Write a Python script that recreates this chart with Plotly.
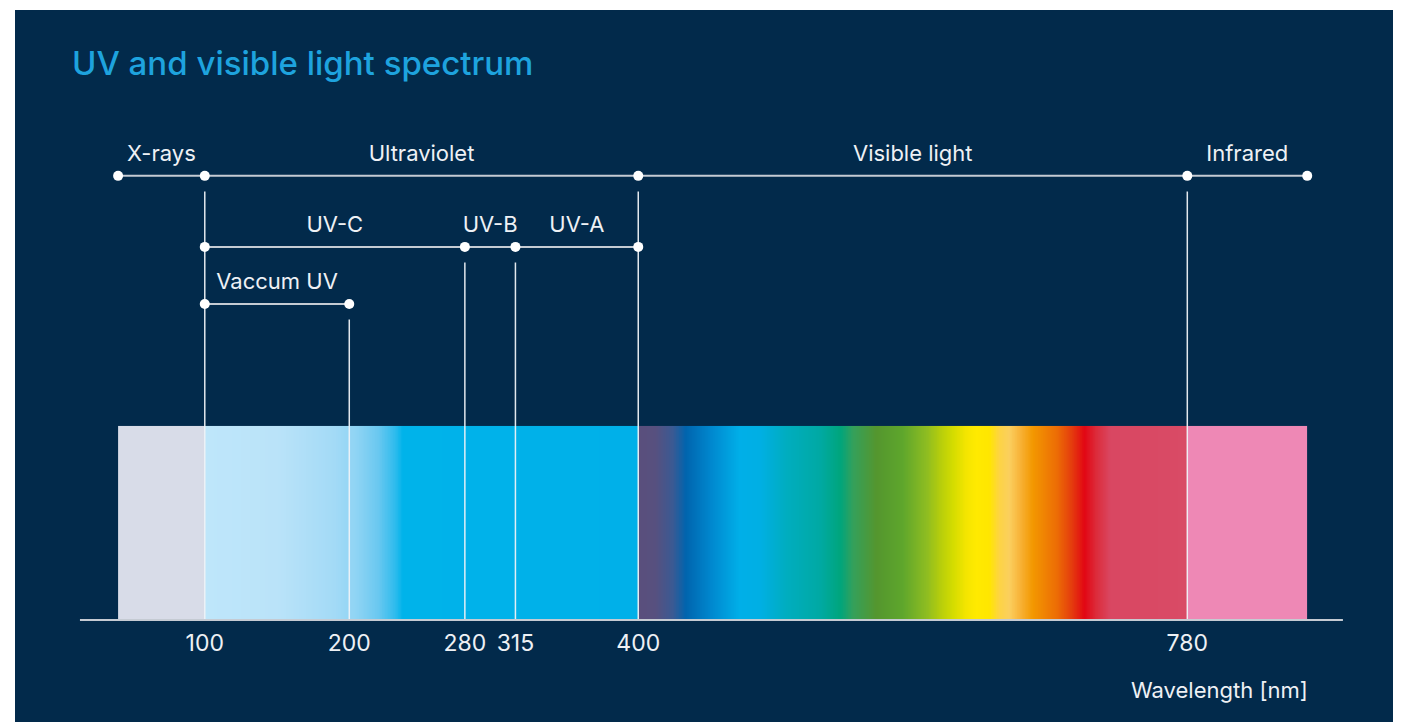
import numpy as np
import plotly.graph_objects as go

# ---------------- data ----------------
# hierarchy rows: boundary points (nm) and the band names between them
row1_points = [40, 100, 400, 780, 863]
row1_labels = ["X-rays", "Ultraviolet", "Visible light", "Infrared"]
row2_points = [100, 280, 315, 400]
row2_labels = ["UV-C", "UV-B", "UV-A"]
row3_points = [100, 200]
row3_labels = ["Vaccum UV"]

# divider lines: wavelength and the row they hang from
divider_nm = [100, 400, 780, 280, 315, 200]
divider_row = [1, 1, 1, 2, 2, 3]

# axis ticks
tick_vals = [100, 200, 280, 315, 400, 780]
tick_text = ["100", "200", "280", "315", "400", "780"]

# spectrum bar extent and colour stops (nm, colour)
bar_start, bar_end = 40, 863
stop_nm = [40, 99.95, 100.05, 150, 190, 205, 220, 232, 237, 399.95,
           400.05, 412, 424, 433, 451, 470, 484, 503, 526, 540,
           549, 565, 583, 600, 609, 618, 627, 634, 643, 650,
           657, 664, 673, 690, 701, 709, 717, 727, 779.95, 780.05, 863]
stop_colors = ["#d8dce8", "#d8dce8", "#bee6fa", "#bae3f9", "#a3daf6", "#8fd4f4", "#6ac8f0", "#2dbbed", "#00b3ea", "#00b0e9",
               "#5a4f7c", "#57507f", "#3a5a93", "#0064ae", "#0088cf", "#00afe8", "#00afe4", "#00adbf", "#00a9a3", "#00a57c",
               "#35a05a", "#54962e", "#5ea62c", "#8fbd21", "#b5cd0c", "#d4dc00", "#f4e500", "#ffea00", "#ffe600", "#fdd444",
               "#fbcf5e", "#f8b43a", "#f39800", "#ec6c05", "#e4380e", "#e20613", "#dc2b3a", "#d94762", "#d94b66", "#ee88b5", "#ee88b5"]

# ---------------- styling / layout constants ----------------
NAVY = "#022a4b"
TEXT = "#eef1f5"
ROWLINE = "#c5cbd3"
row_y = {1: 2.289, 2: 1.923, 3: 1.629}
label_y = {1: 2.392, 2: 2.028, 3: 1.734}
divider_gap = 0.08
FONT = "Inter"
W, H = 1393, 714

fig = go.Figure()

# spectrum bar as heatmap with a custom colour scale
span = bar_end - bar_start
colorscale = [[(n - bar_start) / span, c] for n, c in zip(stop_nm, stop_colors)]
colorscale[0][0] = 0.0
colorscale[-1][0] = 1.0
x_edges = np.arange(bar_start, bar_end + 0.25, 0.5)
x_centers = (x_edges[:-1] + x_edges[1:]) / 2
fig.add_trace(go.Heatmap(
    x=x_edges, y=[0, 1], z=[x_centers],
    colorscale=colorscale, zmin=bar_start, zmax=bar_end,
    showscale=False, hoverinfo="skip", zsmooth=False,
))

# divider lines
for nm, r in zip(divider_nm, divider_row):
    fig.add_trace(go.Scatter(
        x=[nm, nm], y=[row_y[r] - divider_gap, 0], mode="lines",
        line=dict(color="rgba(238,242,247,0.95)", width=1.5),
        hoverinfo="skip", showlegend=False,
    ))

# rows with dots and labels
for r, pts, labels in [(1, row1_points, row1_labels), (2, row2_points, row2_labels), (3, row3_points, row3_labels)]:
    fig.add_trace(go.Scatter(
        x=pts, y=[row_y[r]] * len(pts), mode="lines+markers",
        line=dict(color=ROWLINE, width=2),
        marker=dict(color="white", size=10),
        hoverinfo="skip", showlegend=False,
    ))
    mids = [(a + b) / 2 for a, b in zip(pts[:-1], pts[1:])]
    fig.add_trace(go.Scatter(
        x=mids, y=[label_y[r]] * len(mids), mode="text", text=labels,
        textposition="middle center",
        textfont=dict(family=FONT, size=22, color=TEXT),
        hoverinfo="skip", showlegend=False,
    ))

# baseline axis line
fig.add_trace(go.Scatter(
    x=[13.6, 887.7], y=[0, 0], mode="lines",
    line=dict(color="#c5cbd3", width=2), hoverinfo="skip", showlegend=False,
))

fig.add_annotation(
    x=bar_end, y=-0.361, xref="x", yref="y", text="Wavelength [nm]",
    showarrow=False, xanchor="right", yanchor="middle", xshift=3,
    font=dict(family=FONT, size=22, color=TEXT),
)

fig.update_layout(
    width=W, height=H,
    margin=dict(l=7, r=0, t=2, b=0),
    paper_bgcolor="white", plot_bgcolor=NAVY,
    title=dict(text="UV and visible light spectrum", x=64 / W, xanchor="left",
               y=1 - 55 / H, yanchor="middle", xref="container", yref="container",
               font=dict(family=FONT, size=33, color="#1ea3de", weight=500)),
    xaxis=dict(range=[-31.35, 927.9], showgrid=False, zeroline=False, showline=False,
               tickvals=tick_vals, ticktext=tick_text, ticks="",
               ticklabelstandoff=7,
               tickfont=dict(family=FONT, size=23, color=TEXT),
               anchor="free", position=102 / 712, fixedrange=True),
    yaxis=dict(range=[-0.526, 3.144], showgrid=False, zeroline=False, showline=False,
               showticklabels=False, fixedrange=True),
    showlegend=False,
)

fig.write_html("out.html")
